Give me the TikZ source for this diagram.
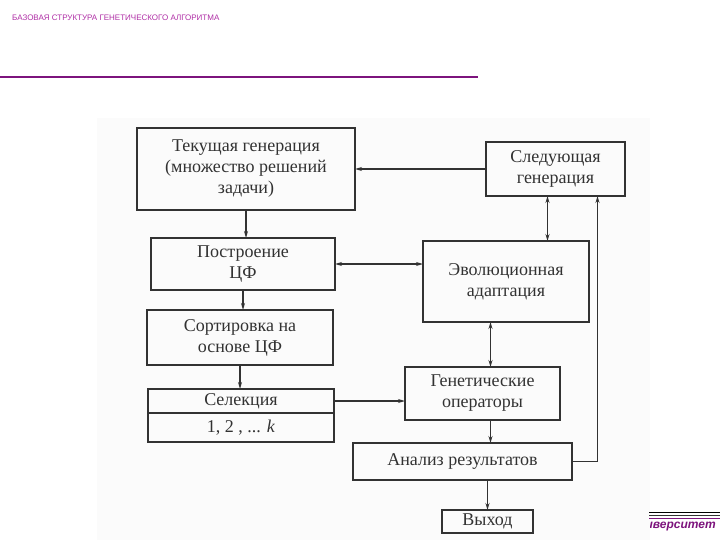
\documentclass[tikz,border=0pt]{standalone}
\usepackage{fontspec}
\setmainfont{Liberation Serif}
\newfontfamily\headfont{Liberation Sans}
\usetikzlibrary{arrows.meta}
\definecolor{slidepurple}{RGB}{175,45,165}
\definecolor{linepurple}{RGB}{125,20,125}
\definecolor{scanink}{RGB}{50,50,50}
\tikzset{
	block/.style={draw=scanink, line width=1.2pt, text=scanink, align=center, inner sep=0pt, outer sep=0pt,
		font=\fontsize{18}{21}\selectfont},
	link/.style={draw=scanink, line width=1.2pt, -{Stealth[length=7pt,width=4pt]}},
	dlink/.style={link, {Stealth[length=7pt,width=4pt]}-{Stealth[length=7pt,width=4pt]}}
}

\begin{document}
\begin{tikzpicture}[x=1pt, y=-1pt]
			%%%%% START %%%%%
			\useasboundingbox (0, 0) rectangle (720, 540);
			
			\node[anchor=west, text=slidepurple, font=\headfont\fontsize{8}{9}\selectfont, inner sep=0pt] (title) at (12, 17.5) {БАЗОВАЯ СТРУКТУРА ГЕНЕТИЧЕСКОГО АЛГОРИТМА};
			\draw[line width=1.4pt, color=linepurple] (0, 77) -- (478, 77);
			
			\node[anchor=east, text=linepurple, font=\headfont\bfseries\itshape\fontsize{12}{14}\selectfont, inner sep=0pt] (univ) at (716, 527) {университет};
			
			% scanned page
			\fill[black!1.5] (97, 118) rectangle (650, 540);
			
			\draw[line width=1.4pt, color=black] (649, 512.5) -- (720, 512.5);
			\draw[line width=1pt, color=black!80] (649, 515.5) -- (720, 515.5);
			\draw[line width=1pt, color=linepurple] (649, 518) -- (720, 518);
			
			% blocks
			\node[block, minimum width=218, minimum height=82] (tek) at (246, 169) {Текущая генерация\\(множество решений\\задачи)};
			\node[block, minimum width=139, minimum height=54] (sled) at (555.5, 169) {Следующая\\генерация};
			\node[block, minimum width=184, minimum height=52] (postr) at (243, 264) {Построение\\ЦФ};
			\node[block, minimum width=166, minimum height=81] (evol) at (506, 281.5) {Эволюционная\\адаптация};
			\node[block, minimum width=186, minimum height=55] (sort) at (240, 337.5) {Сортировка на\\основе ЦФ};
			\node[block, minimum width=186, minimum height=24] (sel) at (241, 401) {Селекция};
			\node[block, minimum width=186, minimum height=29, anchor=north] (selk) at (sel.south) {1, 2 , ... \textit{k}};
			\node[block, minimum width=155, minimum height=53] (gen) at (482.5, 393.5) {Генетические\\операторы};
			\node[block, minimum width=219, minimum height=37] (anal) at (462.5, 461.5) {Анализ результатов};
			\node[block, minimum width=91, minimum height=23] (vyh) at (487.5, 521.5) {Выход};
			
			% links
			\draw[link] (tek.south) -- (tek.south |- postr.north);
			\draw[link] (sled.west) -- (tek.east);
			\draw[dlink] ([xshift=-8]sled.south) -- ([xshift=-8]sled.south |- evol.north);
			\draw[dlink] (postr.east) -- (postr.east -| evol.west);
			\draw[link] (postr.south) -- (postr.south |- sort.north);
			\draw[link] (sort.south) -- (sort.south |- sel.north);
			\draw[link] (sel.east) -- (sel.east -| gen.west);
			\draw[dlink] ([xshift=8]gen.north) -- ([xshift=8]gen.north |- evol.south);
			\draw[link] ([xshift=8]gen.south) -- ([xshift=8]gen.south |- anal.north);
			\draw[link] (anal.south -| vyh.north) -- (vyh.north);
			\draw[link] (anal.east) -| ([xshift=42]sled.south);
			
			%%%%% END %%%%%
\end{tikzpicture}
\end{document}
